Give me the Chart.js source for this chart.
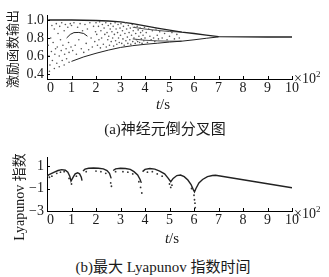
<!DOCTYPE html>
<html><head><meta charset="utf-8">
<script src="https://cdn.jsdelivr.net/npm/chart.js@4"></script>
<style>
html,body{margin:0;padding:0;background:#fff;}
#wrap{position:relative;width:329px;height:277px;overflow:hidden;font-family:"Liberation Serif",serif;color:#1a1a1a;}
canvas{position:absolute;left:0;}
.t{position:absolute;white-space:nowrap;line-height:1;}
.c{transform:translate(-50%,-50%);}
.r{transform:translate(-50%,-50%) rotate(-90deg);}
.cjk{font-family:"Noto Sans CJK SC",sans-serif;}
</style></head><body>
<div id="wrap">
<canvas id="c1" width="329" height="100" style="top:0px"></canvas>
<canvas id="c2" width="329" height="90" style="top:140px"></canvas>
<div class="t r cjk" style="left:11px;top:49px;font-size:13px;">激励函数输出</div>
<div class="t r" style="left:19px;top:197px;font-size:14px;">Lyapunov <span class="cjk">指数</span></div>
<div class="t" style="left:294px;top:70px;font-size:14px;">×10<sup style="font-size:9px;vertical-align:6px">2</sup></div>
<div class="t" style="left:294px;top:205px;font-size:14px;">×10<sup style="font-size:9px;vertical-align:6px">2</sup></div>
<div class="t c" style="left:163px;top:104px;font-size:15px;"><i>t</i>/s</div>
<div class="t c" style="left:172px;top:238px;font-size:15px;"><i>t</i>/s</div>
<div class="t c" style="left:165px;top:128px;font-size:15px;">(a)<span class="cjk">神经元倒分叉图</span></div>
<div class="t c" style="left:163px;top:266px;font-size:15px;">(b)<span class="cjk">最大</span> Lyapunov <span class="cjk">指数时间</span></div>
</div>
<script>
// ---- data ----
const xTicks = [0,1,2,3,4,5,6,7,8,9,10];
const topYTicks = [0.4,0.6,0.8,1.0];
const botYTicks = [-3,-1,1];

// bifurcation diagram branches (t in 1e2 s, value)
const branchTop = [[0.05,1.0],[1,1.0],[2,0.995],[2.5,0.99],[3,0.98],[3.5,0.96],[4,0.935],[4.5,0.91],[5,0.888],[5.5,0.866],[6,0.85],[6.5,0.832],[7,0.815],[8,0.813],[9,0.812],[10,0.812]];
const branchUpperInner = [[3.5,0.92],[4,0.9],[4.5,0.885],[5,0.872],[5.5,0.866]];
const branchLowerInner = [[3.5,0.79],[4,0.775],[4.5,0.768],[5,0.765],[5.5,0.765]];
const branchBottom = [[1,0.54],[1.5,0.59],[2,0.63],[2.5,0.665],[3,0.695],[3.5,0.715],[4,0.73],[4.5,0.742],[5,0.755],[5.5,0.765],[6,0.78],[6.5,0.797],[7,0.812]];
const branchArc = [[0.8,0.8],[0.95,0.84],[1.1,0.86],[1.3,0.862],[1.5,0.85],[1.65,0.82]];
const chaosPts = [
[0.05,0.72],[0.08,0.6],[0.1,0.43],[0.12,0.5],[0.15,0.8],[0.18,0.65],[0.2,0.94],[0.22,0.55],[0.25,0.75],[0.3,0.9],[0.3,0.46],[0.32,0.62],[0.35,0.68],[0.38,0.96],[0.4,0.52],[0.42,0.7],[0.45,0.85],[0.5,0.6],[0.5,0.48],[0.52,0.93],[0.55,0.78],[0.58,0.66],[0.6,0.97],[0.62,0.55],[0.65,0.72],[0.7,0.88],[0.7,0.5],[0.72,0.62],[0.75,0.95],[0.78,0.68],[0.8,0.57],[0.85,0.92],[0.88,0.75],[0.9,0.64],[0.9,0.53],[0.95,0.96],[0.98,0.7],
[1.0,0.94],[1.05,0.66],[1.1,0.97],[1.15,0.72],[1.2,0.62],[1.25,0.92],[1.3,0.78],[1.35,0.96],[1.4,0.68],[1.45,0.88],[1.5,0.64],[1.55,0.95],[1.6,0.74],[1.65,0.9],[1.7,0.67],[1.75,0.97],[1.8,0.8],[1.85,0.7],[1.9,0.93],[1.95,0.76],[1.98,0.87],
[2.0,0.97],[2.03,0.84],[2.06,0.72],[2.1,0.93],[2.12,0.78],[2.15,0.98],[2.18,0.69],[2.2,0.88],[2.23,0.8],[2.26,0.95],[2.3,0.73],[2.33,0.91],[2.36,0.84],[2.4,0.97],[2.42,0.7],[2.45,0.86],[2.48,0.78],[2.5,0.94],[2.52,0.82],[2.55,0.72],[2.58,0.9],[2.6,0.96],[2.62,0.76],[2.65,0.87],[2.68,0.8],[2.7,0.93],[2.72,0.71],[2.75,0.84],[2.78,0.97],[2.8,0.77],[2.82,0.9],[2.85,0.73],[2.88,0.86],[2.9,0.95],[2.92,0.8],[2.95,0.75],[2.98,0.91],
[3.0,0.83],[3.02,0.96],[3.05,0.74],[3.08,0.88],[3.1,0.79],[3.12,0.93],[3.15,0.72],[3.18,0.85],[3.2,0.97],[3.22,0.77],[3.25,0.9],[3.28,0.81],[3.3,0.74],[3.32,0.94],[3.35,0.86],[3.38,0.78],[3.4,0.91],[3.42,0.73],[3.45,0.83],[3.48,0.95],[3.5,0.76],[3.52,0.88],[3.55,0.8],[3.58,0.92],[3.6,0.74],[3.62,0.85],[3.65,0.78],[3.68,0.93],[3.7,0.76],[3.72,0.89],[3.75,0.82],[3.78,0.75],[3.8,0.91],[3.82,0.86],[3.85,0.79],[3.88,0.74],[3.9,0.88],[3.92,0.83],[3.95,0.77],[3.98,0.92],
[4.0,0.8],[4.05,0.86],[4.1,0.75],[4.15,0.9],[4.2,0.82],[4.25,0.78],[4.3,0.88],[4.35,0.8],[4.4,0.76],[4.45,0.9],[4.5,0.83],[4.55,0.79],[4.6,0.87],[4.7,0.8],[4.8,0.85],[4.9,0.78],[5.0,0.82],[5.1,0.86],[5.2,0.79],[5.3,0.84],[5.4,0.8]
];

// largest Lyapunov exponent (null = break)
const lyapT = [0.0,0.05,0.15,0.3,0.45,0.6,0.75,0.85,0.93,0.98,1.02,1.08,1.15,1.25,1.33,1.4,1.43,1.45,
 1.47,1.55,1.7,1.9,2.1,2.3,2.45,2.55,2.62,2.66,
 2.7,2.8,3.0,3.2,3.4,3.55,3.7,3.8,3.85,3.87,
 3.9,4.0,4.2,4.4,4.6,4.8,4.95,5.05,5.15,5.3,5.45,5.6,5.75,5.88,5.97,6.02,6.08,6.2,6.35,6.55,6.75,6.88,8.5,10];
const lyapV = [0.05,0.2,0.3,0.45,0.6,0.68,0.62,0.45,0.1,-0.35,-0.35,0.05,0.3,0.4,0.3,0.0,-0.3,null,
 0.55,0.72,0.8,0.82,0.8,0.75,0.6,0.35,-0.1,null,
 0.6,0.75,0.8,0.78,0.7,0.5,0.2,-0.2,-0.5,null,
 0.5,0.7,0.78,0.72,0.55,0.3,-0.1,-0.4,-0.1,0.15,0.2,0.05,-0.25,-0.65,-1.1,-1.3,-1.0,-0.5,-0.2,0.05,0.15,0.18,-0.4,-0.94];
const lyapDots = [[0.1,0.0],[0.2,0.1],[0.4,0.35],[0.55,0.45],[0.7,0.5],[0.9,-0.1],[1.0,-0.6],[1.2,0.1],[1.6,0.5],[2.0,0.55],[2.2,0.5],[2.4,0.35],[2.6,-0.5],[2.63,-0.8],[2.8,0.5],[3.1,0.5],[3.3,0.45],[3.5,0.3],[3.75,-0.4],[3.82,-0.9],[3.87,-1.4],[4.1,0.45],[4.3,0.5],[4.5,0.3],[4.7,0.1],[5.0,-0.6],[5.05,-0.9],[5.1,-0.7],[5.9,-1.0],[6.0,-1.6],[6.02,-2.0],[6.04,-2.3],[6.05,-2.7]];

// ---- drawing ----
const toXY = a => a.map(p => ({x:p[0], y:p[1]}));
const FONT = {family:'"Liberation Serif", serif', size:14};
const INK = '#1a1a1a';

const inwardTicks = {
  id:'inwardTicks',
  afterDraw(chart){
    const ctx = chart.ctx, a = chart.chartArea, xs = chart.scales.x, ys = chart.scales.y;
    ctx.save(); ctx.strokeStyle = '#000'; ctx.lineWidth = 1; ctx.beginPath();
    xs.ticks.forEach(t => { const px = Math.round(xs.getPixelForValue(t.value)) + 0.5; ctx.moveTo(px, a.bottom); ctx.lineTo(px, a.bottom - 3); });
    ys.ticks.forEach(t => { const py = Math.round(ys.getPixelForValue(t.value)) + 0.5; ctx.moveTo(a.left, py); ctx.lineTo(a.left + 3, py); });
    ctx.stroke(); ctx.restore();
  }
};

function axes(ymin, ymax, yt, yfmt, xh){
  return {
    x:{type:'linear', min:0, max:10,
       afterBuildTicks: s => { s.ticks = xTicks.map(v => ({value:v})); },
       afterFit: s => { s.height = xh; },
       ticks:{font:FONT, color:INK, padding:1, maxRotation:0, autoSkip:false,
              callback: v => v === 0 ? '  0' : String(v)},
       grid:{display:false, drawTicks:false},
       border:{display:true, color:'#000', width:1}},
    y:{type:'linear', min:ymin, max:ymax,
       afterBuildTicks: s => { s.ticks = yt.map(v => ({value:v})); },
       afterFit: s => { s.width = 47; },
       ticks:{font:FONT, color:INK, padding:3, autoSkip:false, callback: yfmt},
       grid:{display:false, drawTicks:false},
       border:{display:true, color:'#000', width:1}}
  };
}

const baseOpts = {responsive:false, animation:false, devicePixelRatio:1,
  plugins:{legend:{display:false}, tooltip:{enabled:false}}};

const lineDs = (d, w) => ({data:toXY(d), showLine:true, pointRadius:0, borderColor:'#222', borderWidth:w, spanGaps:false});

function draw(){
  new Chart(document.getElementById('c1'), {
    type:'scatter',
    data:{datasets:[
      {data:toXY(chaosPts), pointRadius:0.8, pointBorderWidth:0, backgroundColor:'#555'},
      lineDs(branchTop, 1.4),
      lineDs(branchUpperInner, 0.8),
      lineDs(branchLowerInner, 0.8),
      lineDs(branchBottom, 1.0),
      lineDs(branchArc, 1.0)
    ]},
    options:Object.assign({}, baseOpts, {
      layout:{padding:{left:0, right:37, top:15, bottom:0}},
      scales:axes(0.344, 1.056, topYTicks, v => v.toFixed(1), 21)
    }),
    plugins:[inwardTicks]
  });

  new Chart(document.getElementById('c2'), {
    type:'scatter',
    data:{datasets:[
      {data:toXY(lyapDots), pointRadius:0.9, pointBorderWidth:0, backgroundColor:'#333'},
      {data:lyapT.map((t,i) => ({x:t, y:lyapV[i]})), showLine:true, pointRadius:0, borderColor:'#222', borderWidth:1.4, spanGaps:false}
    ]},
    options:Object.assign({}, baseOpts, {
      layout:{padding:{left:0, right:37, top:17, bottom:0}},
      scales:axes(-3, 1.8, botYTicks, v => String(v).replace('-', '\u2212'), 19)
    }),
    plugins:[inwardTicks]
  });
}

Promise.all([
  document.fonts.load('14px "Liberation Serif"'),
  document.fonts.load('italic 14px "Liberation Serif"')
]).then(draw, draw);
</script>
</body></html>
